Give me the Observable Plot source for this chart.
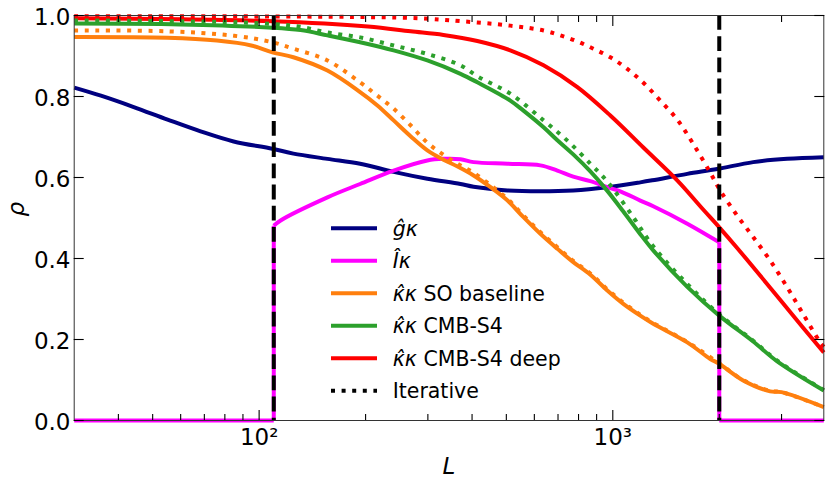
<!DOCTYPE html>
<html><head><meta charset="utf-8">
<script src="https://cdn.jsdelivr.net/npm/d3@7"></script>
<script src="https://cdn.jsdelivr.net/npm/@observablehq/plot@0.6"></script>
<style>body{margin:0;background:#fff} #chart svg{display:block}</style>
</head><body><div id="chart"></div>
<script>
// ---- data ----
const navyL   = [30, 35.7, 44.2, 55.1, 68.3, 84.7, 109, 125, 156, 193, 240, 299, 371, 404, 504, 624, 773, 965, 1196, 1293, 1624, 1974, 2494, 3112, 3950];
const navyRho = [0.822, 0.802, 0.774, 0.743, 0.714, 0.689, 0.671, 0.659, 0.646, 0.634, 0.614, 0.597, 0.584, 0.577, 0.568, 0.566, 0.568, 0.576, 0.588, 0.593, 0.609, 0.621, 0.638, 0.646, 0.650];

const magL   = [30, 110, 110, 115, 156, 193, 240, 299, 332, 371, 404, 504, 624, 697, 773, 864, 965, 1050, 1196, 1301, 1624, 2000, 2000, 3950];
const magRho = [0, 0, 0.481, 0.494, 0.551, 0.584, 0.617, 0.642, 0.646, 0.645, 0.638, 0.634, 0.630, 0.617, 0.602, 0.591, 0.576, 0.566, 0.543, 0.529, 0.486, 0.440, 0, 0];

const soL   = [30, 55, 76, 95, 109, 125, 156, 193, 216, 240, 268, 299, 332, 364, 404, 451, 504, 559, 624, 697, 773, 864, 965, 1071, 1196, 1301, 1624, 1886, 2000, 2336, 2786, 3000, 3950];
const soRho = [0.947, 0.945, 0.938, 0.926, 0.909, 0.897, 0.864, 0.811, 0.778, 0.741, 0.702, 0.667, 0.644, 0.627, 0.605, 0.576, 0.543, 0.502, 0.461, 0.424, 0.391, 0.360, 0.321, 0.288, 0.259, 0.239, 0.193, 0.152, 0.140, 0.099, 0.072, 0.070, 0.033];

const soItL   = [30, 55, 85, 109, 125, 156, 193, 216, 240, 268, 299, 332, 371, 404, 451, 504, 559, 624, 697, 773, 864, 965, 1071, 1196, 1301, 1624, 2000, 2336, 2786, 3000, 3950];
const soItRho = [0.963, 0.961, 0.950, 0.934, 0.918, 0.889, 0.835, 0.802, 0.770, 0.729, 0.686, 0.656, 0.630, 0.612, 0.581, 0.547, 0.506, 0.465, 0.428, 0.394, 0.363, 0.324, 0.291, 0.261, 0.241, 0.194, 0.141, 0.100, 0.073, 0.070, 0.033];

const s4L   = [30, 60, 109, 131, 156, 193, 240, 299, 371, 414, 513, 559, 637, 697, 773, 864, 965, 1071, 1196, 1301, 1624, 2000, 2494, 2916, 3950];
const s4Rho = [0.980, 0.978, 0.970, 0.964, 0.951, 0.934, 0.914, 0.889, 0.856, 0.835, 0.790, 0.765, 0.724, 0.692, 0.657, 0.615, 0.567, 0.516, 0.460, 0.420, 0.330, 0.259, 0.195, 0.146, 0.074];

const s4ItL   = [30, 80, 109, 131, 156, 193, 240, 299, 371, 414, 513, 637, 744, 864, 965, 1143, 1301, 1624, 2000, 2494, 2916, 3950];
const s4ItRho = [0.988, 0.984, 0.979, 0.972, 0.958, 0.946, 0.926, 0.905, 0.877, 0.850, 0.807, 0.741, 0.691, 0.634, 0.590, 0.502, 0.430, 0.337, 0.262, 0.197, 0.148, 0.075];

const deepL   = [30, 109, 203, 268, 332, 414, 513, 637, 794, 984, 1220, 1521, 1801, 2000, 2247, 2786, 3452, 3950];
const deepRho = [0.993, 0.986, 0.973, 0.961, 0.952, 0.937, 0.914, 0.877, 0.823, 0.753, 0.674, 0.593, 0.521, 0.477, 0.426, 0.328, 0.229, 0.168];

const deepItL   = [30, 268, 371, 513, 637, 711, 794, 881, 984, 1099, 1220, 1362, 1521, 1688, 1886, 2012, 2247, 2494, 2786, 3112, 3452, 3857, 3950];
const deepItRho = [0.998, 0.994, 0.986, 0.975, 0.963, 0.951, 0.936, 0.918, 0.897, 0.868, 0.834, 0.790, 0.743, 0.683, 0.612, 0.568, 0.506, 0.453, 0.395, 0.329, 0.263, 0.193, 0.182];

const cutLines = [110, 2000];
const xMajor = [100, 1000];
const xMinor = [40, 50, 60, 70, 80, 90, 200, 300, 400, 500, 600, 700, 800, 900, 2000, 3000];
const yTicks = [0, 0.2, 0.4, 0.6, 0.8, 1.0];
const xDomain = [30, 3950];

const seriesNames  = ["g", "I", "so", "s4", "deep"];
const seriesColors = ["#000080", "#ff00ff", "#ff7f0e", "#2ca02c", "#ff0000"];
const legendItems = [
  {name: "g",    math: "\u011D\u03BA", rest: ""},
  {name: "I",    math: "\u00CE\u03BA", rest: ""},
  {name: "so",   math: "\u03BA\u0302\u03BA", rest: " SO baseline"},
  {name: "s4",   math: "\u03BA\u0302\u03BA", rest: " CMB-S4"},
  {name: "deep", math: "\u03BA\u0302\u03BA", rest: " CMB-S4 deep"},
  {name: null,   math: "", rest: "Iterative"}
];

// ---- build rows ----
function toRows(name, Ls, rhos) {
  const rows = []; let seg = 0;
  for (let i = 0; i < Ls.length; i++) {
    if (i > 0 && Ls[i] === Ls[i - 1]) {
      seg++;
      rows.push({L: Ls[i - 1], rho: rhos[i - 1], name, seg: name + seg});
      rows.push({L: Ls[i], rho: rhos[i], name, seg: name + seg});
      seg++;
    }
    rows.push({L: Ls[i], rho: rhos[i], name, seg: name + seg});
  }
  return rows;
}
const solidRows = [
  ...toRows("g", navyL, navyRho),
  ...toRows("I", magL, magRho),
  ...toRows("so", soL, soRho),
  ...toRows("s4", s4L, s4Rho),
  ...toRows("deep", deepL, deepRho)
];
const iterRows = [
  ...toRows("so", soItL, soItRho),
  ...toRows("s4", s4ItL, s4ItRho),
  ...toRows("deep", deepItL, deepItRho)
];

const LW = 4, DOT = "4,6.6";
const sup = {2: "\u00B2", 3: "\u00B3"};
const tickStroke = {stroke: "#000", strokeWidth: 1.1, tickFormat: () => "", label: null};

const chart = Plot.plot({
  width: 830, height: 483,
  marginLeft: 73.7, marginRight: 6.7, marginTop: 15, marginBottom: 63,
  style: {fontFamily: "DejaVu Sans", background: "#fff"},
  x: {type: "log", domain: xDomain},
  y: {domain: [0, 1]},
  color: {domain: seriesNames, range: seriesColors},
  marks: [
    Plot.line(solidRows, {x: "L", y: "rho", z: "seg", stroke: "name", strokeWidth: LW, curve: "catmull-rom", strokeLinecap: "butt"}),
    Plot.line(iterRows, {x: "L", y: "rho", z: "seg", stroke: "name", strokeWidth: LW, curve: "catmull-rom", strokeDasharray: DOT, strokeLinecap: "butt"}),
    Plot.ruleX(cutLines, {stroke: "#000", strokeWidth: LW, strokeDasharray: "14.8,6.4", strokeLinecap: "butt"}),
    Plot.frame({stroke: "#333", strokeWidth: 1}),
    // inward ticks
    Plot.axisX({ticks: xMajor, anchor: "bottom", tickSize: 10, dy: -10, ...tickStroke}),
    Plot.axisX({ticks: xMinor, anchor: "bottom", tickSize: 6, dy: -6, ...tickStroke}),
    Plot.axisX({ticks: xMajor, anchor: "top", tickSize: 10, dy: 10, ...tickStroke}),
    Plot.axisX({ticks: xMinor, anchor: "top", tickSize: 6, dy: 6, ...tickStroke}),
    Plot.axisY({ticks: yTicks, anchor: "left", tickSize: 10, dx: 10, ...tickStroke}),
    Plot.axisY({ticks: yTicks, anchor: "right", tickSize: 10, dx: -10, ...tickStroke}),
    // tick labels
    Plot.axisX({ticks: xMajor, anchor: "bottom", tickSize: 0, tickPadding: 8.3, fontSize: 23, label: null,
      tickFormat: d => "10" + sup[Math.round(Math.log10(d))]}),
    Plot.axisY({ticks: yTicks, anchor: "left", tickSize: 0, tickPadding: 3.7, fontSize: 23, label: null, dy: 2.5,
      tickFormat: d3.format(".1f")}),
    // axis labels
    Plot.text(["L"], {frameAnchor: "bottom", dy: 45.8, fontSize: 23, fontStyle: "italic", lineAnchor: "middle"}),
    Plot.text(["\u03C1"], {frameAnchor: "left", dx: -57.7, dy: -1.5, fontSize: 23, fontStyle: "italic", rotate: -90, lineAnchor: "middle"})
  ]
});
document.getElementById("chart").appendChild(chart);

// ---- legend ----
const color = chart.scale("color");
const svg = d3.select(chart);
const lg = svg.append("g").attr("font-family", "DejaVu Sans").attr("font-size", 20.5)
  .attr("text-anchor", "start").style("white-space", "pre");
const legendTop = 228.3, legendStep = 32.5;
legendItems.forEach((it, i) => {
  const y = legendTop + i * legendStep;
  lg.append("line").attr("x1", 331).attr("x2", 377).attr("y1", y).attr("y2", y)
    .attr("stroke", it.name ? color.apply(it.name) : "#000").attr("stroke-width", LW)
    .attr("stroke-dasharray", it.name ? null : DOT);
  const t = lg.append("text").attr("x", 392.7).attr("y", y + 7.3).attr("fill", "#000").attr("text-anchor", "start");
  if (it.math) t.append("tspan").attr("font-style", "italic").text(it.math);
  if (it.rest) t.append("tspan").text(it.rest);
});
</script></body></html>
